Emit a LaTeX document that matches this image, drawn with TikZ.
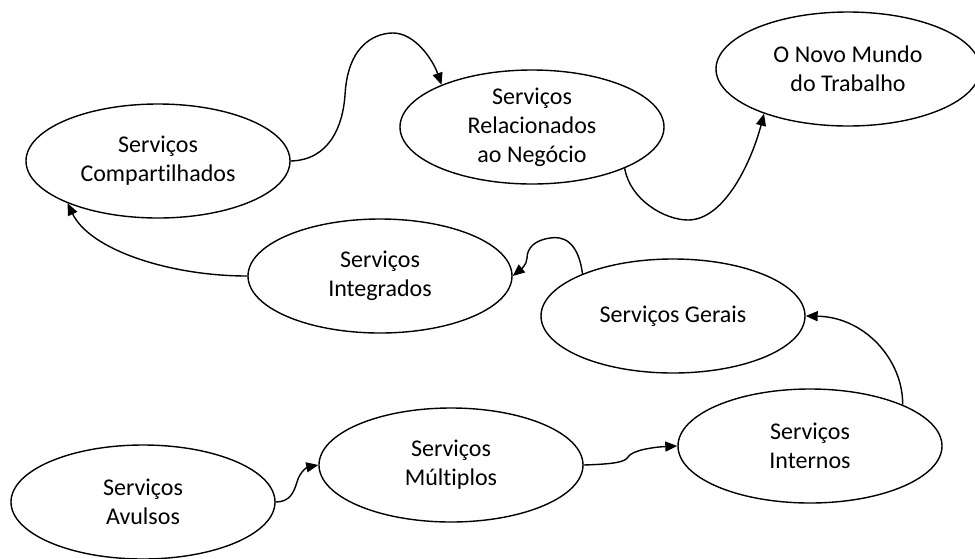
\documentclass[tikz,border=0pt]{standalone}
\usepackage{fontspec}
\setmainfont{Carlito}[Ligatures=NoCommon]
\usetikzlibrary{shapes.geometric,arrows.meta}
\begin{document}
\begin{tikzpicture}[x=1pt,y=-1pt,
  svc/.style={ellipse,draw,line width=1.4pt,minimum width=264pt,minimum height=114pt,
    inner sep=0pt,align=center,font=\fontsize{24}{29}\selectfont},
  flow/.style={line width=1.4pt,-{Triangle[length=12pt,width=10pt]}}]
\fill[white] (0,0) rectangle (975,558);
\useasboundingbox (0,0) rectangle (975,558);

% service stages
\node[svc] (av)  at (143,502) {Serviços\\Avulsos};
\node[svc] (mu)  at (451,465) {Serviços\\Múltiplos};
\node[svc] (int) at (810,446) {Serviços\\Internos};
\node[svc] (ge)  at (673,316) {Serviços Gerais};
\node[svc] (ig)  at (380,276) {Serviços\\Integrados};
\node[svc] (co)  at (158,161) {Serviços\\Compartilhados};
\node[svc] (re)  at (532,127) {Serviços\\Relacionados\\ao Negócio};
\node[svc] (nm)  at (848,69)  {O Novo Mundo\\do Trabalho};

% evolution path
\draw[flow] (av.east) .. controls (290,502) and (294,492) .. (297,482)
  .. controls (300,471) and (308,467) .. (mu.west);
\draw[flow] (mu.east) .. controls (615,464) and (625,462) .. (628,457)
  .. controls (632,450) and (655,447) .. (int.west);
\draw[flow] (int.24) .. controls (903,360) and (865,317) .. (ge.east);
\draw[flow] (ge.155) .. controls (578,240) and (562,236) .. (550,238)
  .. controls (535,240) and (527,248) .. (527,258)
  .. controls (527,265) and (520,270) .. (ig.east);
\draw[flow] (ig.west) .. controls (170,276) and (90,250) .. (co.205);
\draw[flow] (co.east) .. controls (330,160) and (343,125) .. (345,95)
  .. controls (348,40) and (380,33) .. (393,33)
  .. controls (415,33) and (433,60) .. (re.155);
\draw[flow] (re.-24) .. controls (630,200) and (665,220) .. (688,220)
  .. controls (725,220) and (752,160) .. (nm.208);
\end{tikzpicture}
\end{document}
